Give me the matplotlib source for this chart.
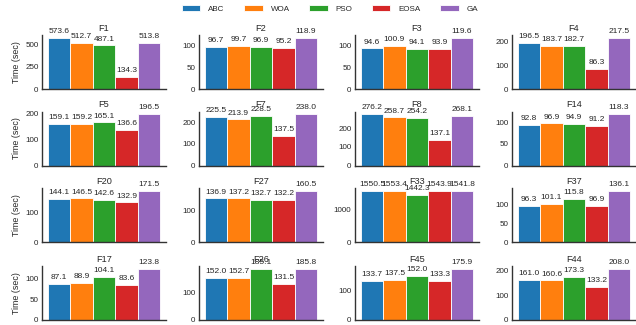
import numpy as np
import matplotlib
matplotlib.use('Agg')
import matplotlib.pyplot as plt
from matplotlib.ticker import MaxNLocator
from matplotlib.patches import Patch

plt.rcParams['font.family'] = ['Liberation Sans', 'DejaVu Sans']
plt.rcParams['text.color'] = '0.15'
plt.rcParams['axes.labelcolor'] = '0.15'
plt.rcParams['xtick.color'] = '0.15'
plt.rcParams['ytick.color'] = '0.15'

algoritmos = ['ABC', 'WOA', 'PSO', 'EOSA', 'GA']
colores = ['#1f77b4', '#ff7f0e', '#2ca02c', '#d62728', '#9467bd']

funciones = ['F1', 'F2', 'F3', 'F4',
             'F5', 'F7', 'F8', 'F14',
             'F20', 'F27', 'F33', 'F37',
             'F17', 'F26', 'F45', 'F44']

# tiempos de ejecucion (seg) por funcion, en el orden ABC, WOA, PSO, EOSA, GA
t_F1 = [573.6, 512.7, 487.1, 134.3, 513.8]
t_F2 = [96.7, 99.7, 96.9, 95.2, 118.9]
t_F3 = [94.6, 100.9, 94.1, 93.9, 119.6]
t_F4 = [196.5, 183.7, 182.7, 86.3, 217.5]
t_F5 = [159.1, 159.2, 165.1, 136.6, 196.5]
t_F7 = [225.5, 213.9, 228.5, 137.5, 238.0]
t_F8 = [276.2, 258.7, 254.2, 137.1, 268.1]
t_F14 = [92.8, 96.9, 94.9, 91.2, 118.3]
t_F20 = [144.1, 146.5, 142.6, 132.9, 171.5]
t_F27 = [136.9, 137.2, 132.7, 132.2, 160.5]
t_F33 = [1550.5, 1553.4, 1442.3, 1543.9, 1541.8]
t_F37 = [96.3, 101.1, 115.8, 96.9, 136.1]
t_F17 = [87.1, 88.9, 104.1, 83.6, 123.8]
t_F26 = [152.0, 152.7, 185.1, 131.5, 185.8]
t_F45 = [133.7, 137.5, 152.0, 133.3, 175.9]
t_F44 = [161.0, 160.6, 173.3, 133.2, 208.0]

tiempos = [t_F1, t_F2, t_F3, t_F4,
           t_F5, t_F7, t_F8, t_F14,
           t_F20, t_F27, t_F33, t_F37,
           t_F17, t_F26, t_F45, t_F44]

W, H = 636, 325
fig = plt.figure(figsize=(W / 100, H / 100), dpi=100)

# posiciones de los ejes en pixeles
izq = [42, 199, 355, 512]
ancho = 124
abajo = [89, 165.5, 242.3, 320]
alto = 54

x = np.arange(len(algoritmos))
for k, (nombre, t) in enumerate(zip(funciones, tiempos)):
    fila, col = divmod(k, 4)
    ax = fig.add_axes([izq[col] / W, (H - abajo[fila]) / H, ancho / W, alto / H])
    barras = ax.bar(x, t, width=1.0, color=colores, edgecolor='white', linewidth=0.6)
    ax.bar_label(barras, labels=['%.1f' % v for v in t], padding=2, fontsize=6, color='0.15')
    ax.set_title(nombre, fontsize=6.6, pad=3)
    ax.set_xticks([])
    ax.yaxis.set_major_locator(MaxNLocator(nbins=3, steps=[1, 2, 2.5, 5, 10]))
    ax.tick_params(axis='y', length=0, pad=2.5, labelsize=5.8)
    for lado in ['top', 'right']:
        ax.spines[lado].set_visible(False)
    for lado in ['left', 'bottom']:
        ax.spines[lado].set_color('0.2')
        ax.spines[lado].set_linewidth(1.0)
    ax.set_facecolor('white')
    if col == 0:
        ax.set_ylabel('Time (sec)', fontsize=6.4, labelpad=3)

manejadores = [Patch(facecolor=c, edgecolor='white', linewidth=0.6) for c in colores]
fig.legend(manejadores, algoritmos, loc='center', ncol=5, frameon=False,
           bbox_to_anchor=(0.519, 1 - 9 / H), fontsize=5.8,
           handlelength=2.3, handleheight=0.8, handletextpad=1.0, columnspacing=2.4)

fig.savefig('out.png', dpi=100, facecolor='white')
